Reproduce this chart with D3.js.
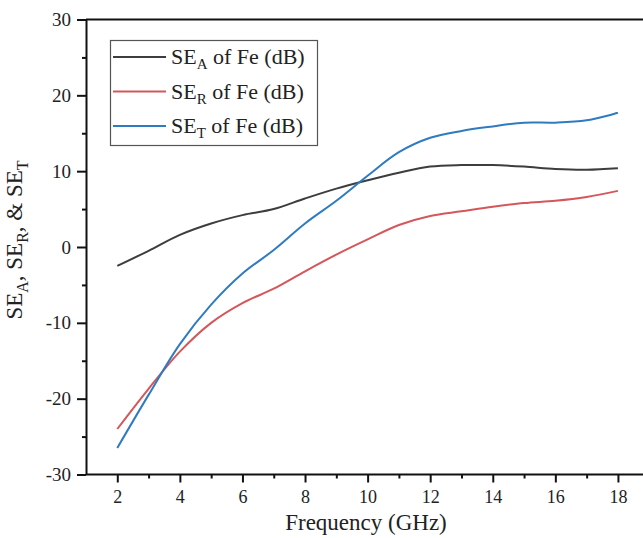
<!DOCTYPE html>
<html>
<head>
<meta charset="utf-8">
<script src="https://cdn.jsdelivr.net/npm/d3@7"></script>
<style>
  body { margin: 0; background: #fff; }
  svg text { font-family: "Liberation Serif", "Times New Roman", serif; fill: #222; }
</style>
</head>
<body>
<svg id="chart" width="643" height="538"></svg>
<script>
// frequency (GHz)
const freq = [2, 3, 4, 5, 6, 7, 8, 9, 10, 11, 12, 13, 14, 15, 16, 17, 18]
// SE_A, SE_R, SE_T of Fe (dB)
const seA = [-2.5, -0.5, 1.6, 3.1, 4.2, 5.0, 6.4, 7.7, 8.8, 9.8, 10.6, 10.8, 10.8, 10.6, 10.3, 10.2, 10.4]
const seR = [-24.0, -18.7, -13.8, -10.0, -7.4, -5.5, -3.2, -1.0, 1.0, 2.9, 4.1, 4.7, 5.3, 5.8, 6.1, 6.6, 7.4]
const seT = [-26.5, -19.5, -12.8, -7.6, -3.5, -0.4, 3.1, 6.1, 9.4, 12.5, 14.4, 15.3, 15.9, 16.4, 16.4, 16.7, 17.7]
const xTicks = [2, 4, 6, 8, 10, 12, 14, 16, 18]
const yTicks = [-30, -20, -10, 0, 10, 20, 30]

const series = [
    {label: "A", values: seA, color: "#3d3d3d"},
    {label: "R", values: seR, color: "#d4575b"},
    {label: "T", values: seT, color: "#2f7bbf"}
]

const svg = d3.select("#chart")
const plotLeft = 86, plotTop = 19.5, plotBottom = 474.5

const x = d3.scaleLinear().domain([1, 19]).range([plotLeft, plotLeft + 18*31.29])
const y = d3.scaleLinear().domain([-30, 30]).range([plotBottom, plotTop])
const fmt = d => String(d)  // plain hyphen for negatives, like the original

// top frame line
svg.append("line")
    .attr("x1", plotLeft).attr("x2", 643)
    .attr("y1", plotTop).attr("y2", plotTop)
    .attr("stroke", "#111").attr("stroke-width", 2)

// minor ticks first, majors on top
svg.append("g")
    .attr("transform", `translate(0,${plotBottom})`)
    .call(d3.axisBottom(x).tickValues(d3.range(3, 19, 2)).tickSize(4).tickFormat(""))
    .call(g => g.select(".domain").remove())
    .selectAll("line").attr("stroke", "#111").attr("stroke-width", 2)

svg.append("g")
    .attr("transform", `translate(${plotLeft},0)`)
    .call(d3.axisLeft(y).tickValues(d3.range(-25, 30, 10)).tickSize(4).tickFormat(""))
    .call(g => g.select(".domain").remove())
    .selectAll("line").attr("stroke", "#111").attr("stroke-width", 2)

const xAxis = svg.append("g")
    .attr("transform", `translate(0,${plotBottom})`)
    .call(d3.axisBottom(x).tickValues(xTicks).tickFormat(fmt).tickSize(8).tickPadding(8).tickSizeOuter(0))
xAxis.select(".domain").attr("d", `M${plotLeft},0H643`).attr("stroke", "#111").attr("stroke-width", 2)
xAxis.selectAll("line").attr("stroke", "#111").attr("stroke-width", 2)
xAxis.selectAll("text").style("font-size", "18px").attr("fill", "#222")

const yAxis = svg.append("g")
    .attr("transform", `translate(${plotLeft},0)`)
    .call(d3.axisLeft(y).tickValues(yTicks).tickFormat(fmt).tickSize(9).tickPadding(6).tickSizeOuter(0))
yAxis.select(".domain").attr("stroke", "#111").attr("stroke-width", 2)
yAxis.selectAll("line").attr("stroke", "#111").attr("stroke-width", 2)
yAxis.selectAll("text").style("font-size", "19px").attr("fill", "#222")

// curves
const line = d3.line()
    .x((d, i) => x(freq[i]))
    .y(d => y(d))
    .curve(d3.curveCatmullRom.alpha(0.5))

series.forEach(s => {
    svg.append("path")
        .datum(s.values)
        .attr("d", line)
        .attr("fill", "none")
        .attr("stroke", s.color)
        .attr("stroke-width", 2)
})

// axis titles
svg.append("text")
    .attr("x", 366).attr("y", 530)
    .attr("text-anchor", "middle")
    .style("font-size", "23px")
    .text("Frequency (GHz)")

const yTitle = svg.append("text")
    .attr("transform", "translate(22,240) rotate(-90)")
    .attr("text-anchor", "middle")
    .style("font-size", "23px")
yTitle.append("tspan").text("SE")
yTitle.append("tspan").attr("dy", 6).style("font-size", "16px").text("A")
yTitle.append("tspan").attr("dy", -6).text(", SE")
yTitle.append("tspan").attr("dy", 6).style("font-size", "16px").text("R")
yTitle.append("tspan").attr("dy", -6).text(", & SE")
yTitle.append("tspan").attr("dy", 6).style("font-size", "16px").text("T")

// legend
const legend = svg.append("g")
legend.append("rect")
    .attr("x", 110.5).attr("y", 40.5)
    .attr("width", 207).attr("height", 105)
    .attr("fill", "#fff").attr("stroke", "#555").attr("stroke-width", 1.2)

series.forEach((s, i) => {
    const ly = 57 + i*34.5
    legend.append("line")
        .attr("x1", 113).attr("x2", 166)
        .attr("y1", ly).attr("y2", ly)
        .attr("stroke", s.color).attr("stroke-width", 2)
    const t = legend.append("text")
        .attr("x", 171).attr("y", ly + 7)
        .style("font-size", "22px")
    t.append("tspan").text("SE")
    t.append("tspan").attr("dy", 5).style("font-size", "15px").text(s.label)
    t.append("tspan").attr("dy", -5).text(" of Fe (dB)")
})
</script>
</body>
</html>
